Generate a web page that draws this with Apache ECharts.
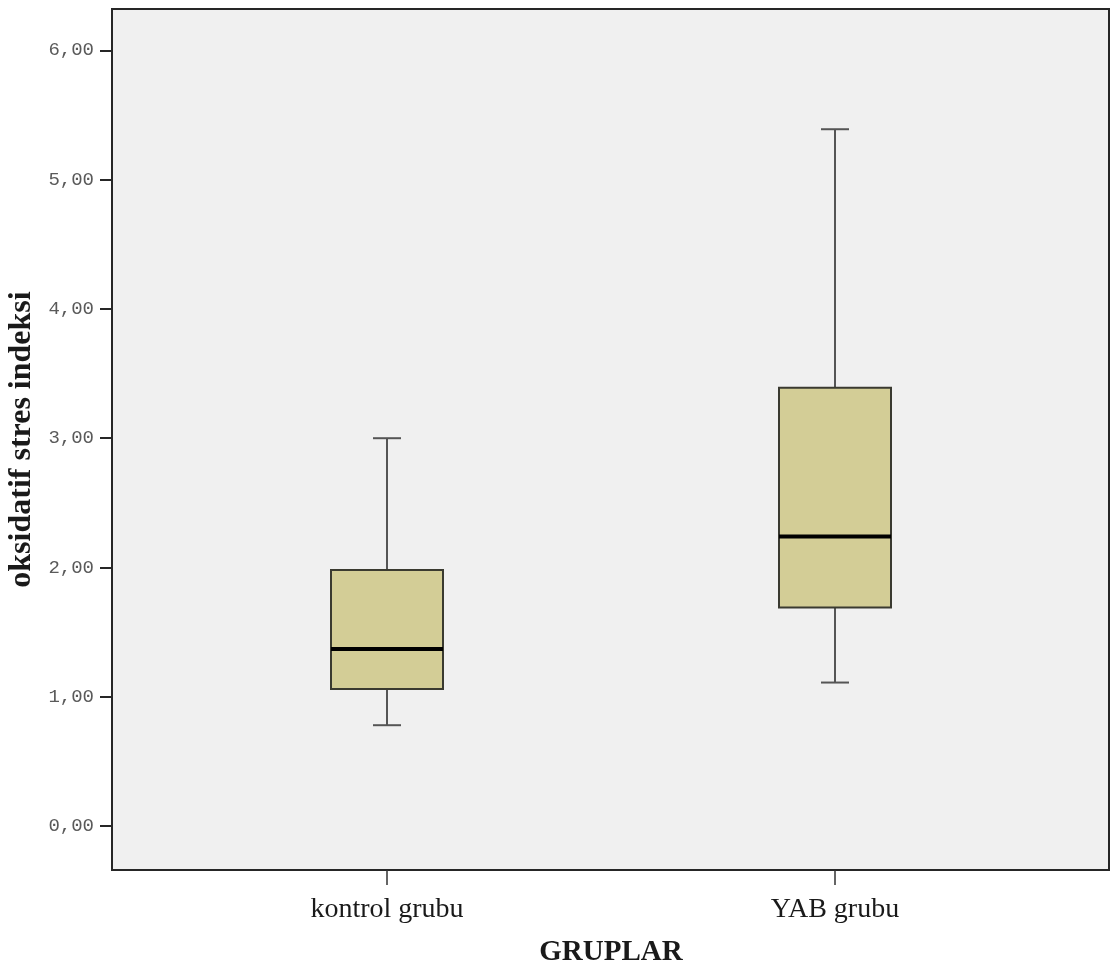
<!DOCTYPE html>
<html>
<head>
<meta charset="utf-8">
<title>oksidatif stres indeksi</title>
<script src="https://cdn.jsdelivr.net/npm/echarts@6/dist/echarts.min.js"></script>
<style>
    html, body { margin: 0; padding: 0; background: #fff; }
    #boxChart { width: 1112px; height: 976px; }
</style>
</head>
<body>
<div id="boxChart"></div>
<script>
// gruplar
var categories = ['kontrol grubu', 'YAB grubu'];
// kutu grafiği değerleri (alt bıyık, Q1, medyan, Q3, üst bıyık)
var whiskerLow = [0.78, 1.11];
var q1 = [1.06, 1.69];
var median = [1.37, 2.24];
var q3 = [1.98, 3.39];
var whiskerHigh = [3.00, 5.39];
// y ekseni etiketleri
var yTicks = [0, 1, 2, 3, 4, 5, 6];

var yMin = -0.34;
var yMax = 6.32;

function buildData() {
    let rows = [];
    for (let i = 0; i < categories.length; i++) {
        rows.push([i, whiskerLow[i], q1[i], median[i], q3[i], whiskerHigh[i]]);
    }
    return rows;
}

function formatTick(value) {
    return value.toFixed(2).replace('.', ',');
}

// kutu, medyan ve bıyıkları çiz
function renderBox(params, api) {
    let idx = api.value(0);
    let low = api.coord([idx, api.value(1)]);
    let lo = api.coord([idx, api.value(2)]);
    let med = api.coord([idx, api.value(3)]);
    let hi = api.coord([idx, api.value(4)]);
    let high = api.coord([idx, api.value(5)]);
    let band = api.size([1, 0])[0];
    let boxW = band * 0.25;
    let capW = band * 0.0625;
    let x = low[0];
    let whiskerStyle = { stroke: '#555', lineWidth: 2 };
    return {
        type: 'group',
        children: [
            { type: 'line', shape: { x1: x, y1: high[1], x2: x, y2: hi[1] }, style: whiskerStyle },
            { type: 'line', shape: { x1: x, y1: lo[1], x2: x, y2: low[1] }, style: whiskerStyle },
            { type: 'line', shape: { x1: x - capW / 2, y1: high[1], x2: x + capW / 2, y2: high[1] }, style: whiskerStyle },
            { type: 'line', shape: { x1: x - capW / 2, y1: low[1], x2: x + capW / 2, y2: low[1] }, style: whiskerStyle },
            {
                type: 'rect',
                shape: { x: x - boxW / 2, y: hi[1], width: boxW, height: lo[1] - hi[1] },
                style: { fill: '#d3cd96', stroke: '#3a3a30', lineWidth: 2 }
            },
            {
                type: 'line',
                shape: { x1: x - boxW / 2, y1: med[1], x2: x + boxW / 2, y2: med[1] },
                style: { stroke: '#000', lineWidth: 4 }
            }
        ]
    };
}

var chartDom = document.getElementById('boxChart');
var myChart = echarts.init(chartDom);

var option = {
    backgroundColor: '#ffffff',
    animation: false,
    grid: [
        {
            left: 112, right: 3, top: 9, bottom: 106,
            outerBoundsMode: 'none',
            containLabel: false,
            show: true,
            backgroundColor: '#f0f0f0',
            borderColor: '#262626',
            borderWidth: 2
        },
        {
            left: 163, right: 53, top: 9, bottom: 106,
            outerBoundsMode: 'none',
            containLabel: false
        }
    ],
    xAxis: [
        { gridIndex: 0, type: 'value', min: 0, max: 1, show: false },
        {
            gridIndex: 1,
            type: 'category',
            data: categories,
            boundaryGap: true,
            position: 'bottom',
            axisLine: { show: false, onZero: false },
            axisTick: { show: true, alignWithLabel: true, length: 15, lineStyle: { color: '#333', width: 1.5 } },
            axisLabel: {
                margin: 26,
                color: '#1a1a1a',
                fontFamily: 'Liberation Serif',
                fontSize: 28
            },
            splitLine: { show: false },
            name: 'GRUPLAR',
            nameLocation: 'middle',
            nameGap: 68,
            nameTextStyle: {
                color: '#1a1a1a',
                fontFamily: 'Liberation Serif',
                fontWeight: 'bold',
                fontSize: 29
            }
        }
    ],
    yAxis: [
        {
            gridIndex: 0,
            type: 'value',
            min: yMin,
            max: yMax,
            axisLine: { show: false },
            axisTick: {
                show: true,
                length: 12,
                customValues: yTicks,
                lineStyle: { color: '#262626', width: 2 }
            },
            axisLabel: {
                customValues: yTicks,
                margin: 18,
                color: '#5a5a5a',
                fontFamily: 'Liberation Mono',
                fontSize: 19,
                formatter: formatTick
            },
            splitLine: { show: false },
            name: 'oksidatif stres indeksi',
            nameLocation: 'middle',
            nameGap: 72,
            nameTextStyle: {
                color: '#1a1a1a',
                fontFamily: 'Liberation Serif',
                fontWeight: 'bold',
                fontSize: 32
            }
        },
        { gridIndex: 1, type: 'value', min: yMin, max: yMax, show: false }
    ],
    series: [
        {
            type: 'custom',
            xAxisIndex: 1,
            yAxisIndex: 1,
            renderItem: renderBox,
            encode: { x: 0, y: [1, 2, 3, 4, 5] },
            data: buildData()
        }
    ]
};

option && myChart.setOption(option);
</script>
</body>
</html>
